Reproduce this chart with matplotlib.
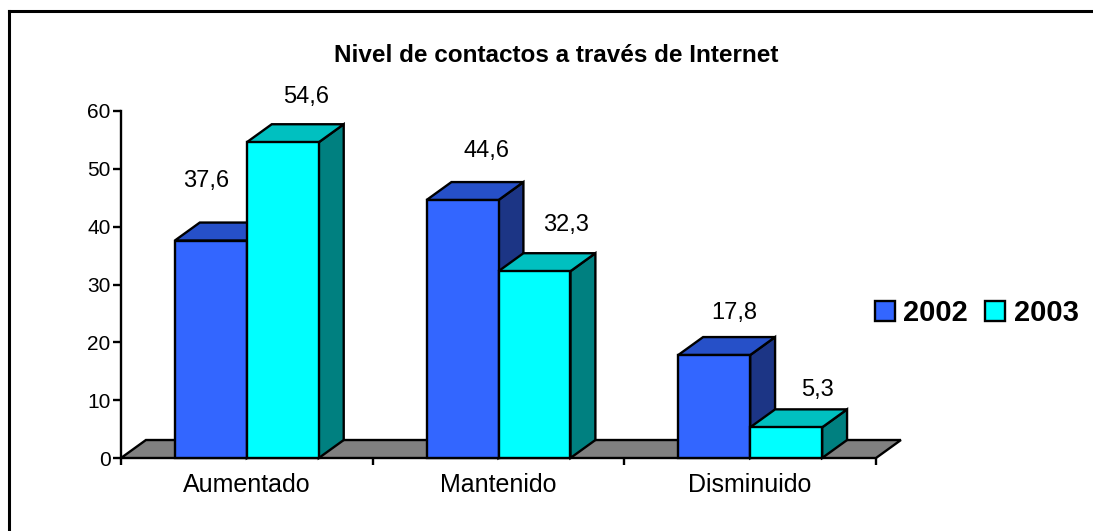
import matplotlib
matplotlib.use("Agg")
import matplotlib.pyplot as plt
from matplotlib.patches import Polygon, Patch
from matplotlib.lines import Line2D

plt.rcParams['font.family'] = ['Liberation Sans', 'DejaVu Sans']

# data
categories = ["Aumentado", "Mantenido", "Disminuido"]
years = ["2002", "2003"]
values_2002 = [37.6, 44.6, 17.8]
values_2003 = [54.6, 32.3, 5.3]
series = [values_2002, values_2003]

# style: (front, top, side) per series
colors = [
    ("#3366FF", "#2650C8", "#1C3585"),
    ("#00FFFF", "#00C0C0", "#008080"),
]
BAR_W = 0.286
DX = 0.099   # depth offset in category units
DY = 3.11    # depth offset in value units
LW = 1.7
# label nudges (pixels) from the top-front centre of each bar, per series
LABEL_NUDGE = [
    [(-5, 60), (24, 49), (20, 42)],
    [(23, 45), (32, 46), (31, 37)],
]

W, H = 1093, 531
fig = plt.figure(figsize=(W / 100, H / 100), dpi=100)
fig.patch.set_facecolor("white")

# outer chart border (left and top visible)
fig.add_artist(Line2D([9 / W, 9 / W], [0, 1 - 11 / H], color="black", lw=2.2))
fig.add_artist(Line2D([9 / W, 1], [1 - 11 / H, 1 - 11 / H], color="black", lw=2.2))

ax = fig.add_axes([121 / W, (H - 458) / H, (876 - 121) / W, (458 - 111) / H])
ax.set_xlim(-0.5, len(categories) - 0.5)
ax.set_ylim(0, 60)
ax.set_facecolor("none")

# floor
x0, x1 = -0.5, len(categories) - 0.5
ax.add_patch(Polygon([(x0, 0), (x1, 0), (x1 + DX, DY), (x0 + DX, DY)],
                     closed=True, facecolor="#808080", edgecolor="black",
                     lw=LW, zorder=1, clip_on=False))


def draw_bar(left, height, cols, z):
    front, top, side = cols
    right = left + BAR_W
    ax.add_patch(Polygon([(right, 0), (right + DX, DY), (right + DX, height + DY), (right, height)],
                         closed=True, facecolor=side, edgecolor="black", lw=LW,
                         zorder=z, clip_on=False, joinstyle="miter"))
    ax.add_patch(Polygon([(left, height), (right, height), (right + DX, height + DY), (left + DX, height + DY)],
                         closed=True, facecolor=top, edgecolor="black", lw=LW,
                         zorder=z, clip_on=False, joinstyle="miter"))
    ax.add_patch(Polygon([(left, 0), (right, 0), (right, height), (left, height)],
                         closed=True, facecolor=front, edgecolor="black", lw=LW,
                         zorder=z, clip_on=False, joinstyle="miter"))


z = 2
for i in range(len(categories)):
    for s, vals in enumerate(series):
        left = i - BAR_W + s * BAR_W
        draw_bar(left, vals[i], colors[s], z)
        z += 1
        nx, ny = LABEL_NUDGE[s][i]
        ax.annotate(f"{vals[i]:.1f}".replace(".", ","),
                    xy=(left + BAR_W / 2, vals[i]), xytext=(nx * 0.72, ny * 0.72),
                    textcoords="offset points", ha="center", va="center",
                    fontsize=17, zorder=20, annotation_clip=False)

# axes styling
for sp in ["top", "right", "bottom"]:
    ax.spines[sp].set_visible(False)
ax.spines["left"].set_linewidth(LW)
ax.set_yticks(range(0, 61, 10))
ax.tick_params(axis="y", direction="out", length=6, width=LW, labelsize=15, pad=1.5)
ax.set_xticks(range(len(categories)))
ax.set_xticklabels(categories)
ax.set_xticks([k - 0.5 for k in range(len(categories) + 1)], minor=True)
ax.tick_params(axis="x", which="major", length=0, labelsize=18, pad=11)
ax.tick_params(axis="x", which="minor", direction="out", length=5, width=LW)

fig.text(556 / W, 1 - 56 / H, "Nivel de contactos a través de Internet",
         ha="center", va="center", fontsize=17.5, fontweight="bold")

handles = [Patch(facecolor=colors[s][0], edgecolor="black", lw=LW) for s in range(len(years))]
leg = fig.legend(handles, years, loc="center left", bbox_to_anchor=(875 / W, 1 - 313 / H),
                 ncol=2, frameon=False, handlelength=0.69, handleheight=0.69,
                 handletextpad=0.28, columnspacing=0.59, borderpad=0, borderaxespad=0,
                 prop={"size": 21, "weight": "bold"})

fig.savefig("out.png", dpi=100, facecolor="white")
